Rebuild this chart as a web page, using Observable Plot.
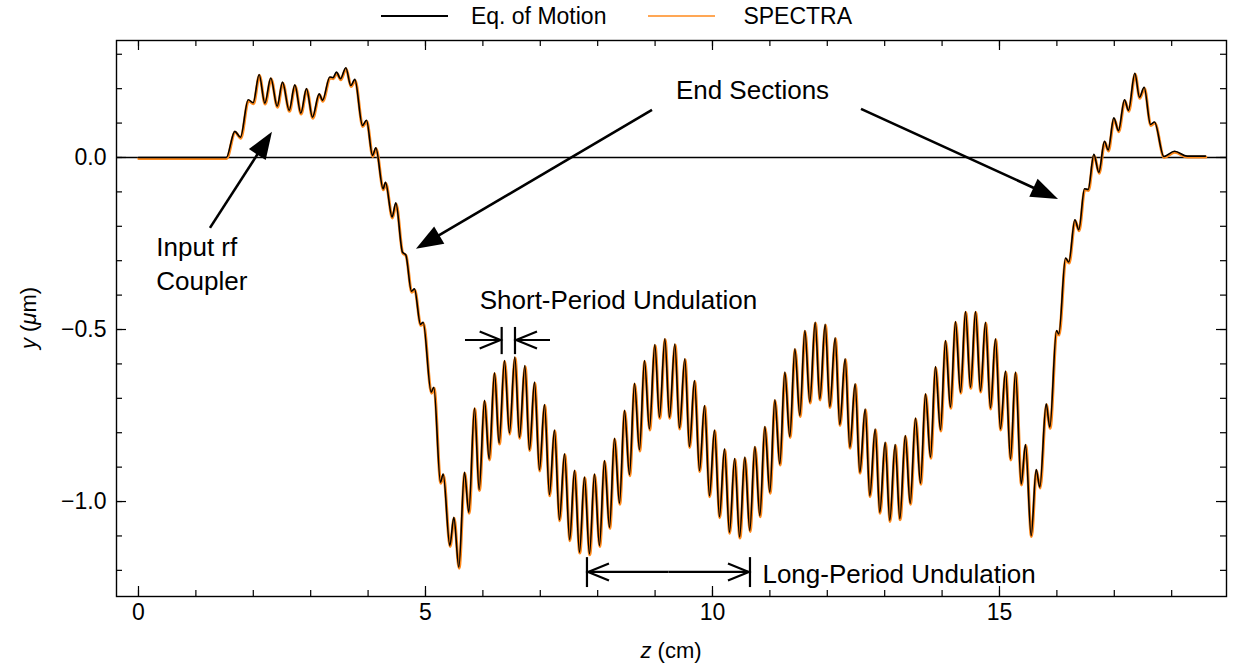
<!DOCTYPE html>
<html><head><meta charset="utf-8">
<script src="https://cdn.jsdelivr.net/npm/d3@7"></script>
<script src="https://cdn.jsdelivr.net/npm/@observablehq/plot@0.6"></script>
<style>
body{margin:0;background:#fff;font-family:"Liberation Sans",Arial,sans-serif;}
#wrap{position:relative;width:1233px;height:671px;overflow:hidden;}
#legend{position:absolute;left:0;top:0;width:1233px;height:32px;display:flex;justify-content:center;align-items:center;font-size:23px;color:#000;}
#legend .item{display:flex;align-items:center;margin:0 21px;}
#legend svg{margin-right:23px;}
#legend .item + .item svg{margin-right:28px;}
#chart{position:absolute;left:0;top:32px;}
</style></head><body>
<div id="wrap"><div id="legend"></div><div id="chart"></div></div>
<script>
// ---- data: z (cm) and y (µm) (extrema of the trajectory)
const zVals = [0,0.5,1.0,1.45,1.53,
1.678,1.777,1.911,1.998,2.102,2.201,2.305,2.416,2.509,2.625,2.724,2.828,2.927,3.031,3.148,3.206,3.333,3.39,3.449,3.519,3.612,3.699,3.769,3.902,3.972,4.077,4.135,
4.262,4.303,4.419,4.483,4.599,4.657,4.756,4.808,4.913,4.959,5.099,5.145,5.261,5.308,5.424,5.494,5.581,5.679,5.755,5.854,5.935,6.028,6.109,6.202,6.283,6.376,6.463,6.556,6.638,6.731,6.812,6.899,6.986,7.073,7.160,7.247,7.334,7.422,7.512,7.596,7.683,7.770,7.857,7.944,8.031,8.118,8.206,8.293,8.380,8.467,8.554,8.641,8.728,8.815,8.902,8.995,9.077,9.170,9.251,9.344,9.425,9.518,9.599,9.686,9.774,9.861,9.948,10.035,10.122,10.209,10.296,10.386,10.473,10.563,10.650,10.738,10.825,10.912,10.999,11.086,11.173,11.260,11.347,11.435,11.522,11.609,11.696,11.789,11.870,11.963,12.044,12.137,12.218,12.311,12.393,12.485,12.567,12.660,12.741,12.834,12.915,13.008,13.089,13.182,13.264,13.359,13.444,13.537,13.624,13.711,13.798,13.885,13.972,14.059,14.146,14.233,14.321,14.408,14.495,14.582,14.669,14.756,14.843,14.930,15.017,15.105,15.192,15.279,15.378,15.453,15.552,15.639,15.703,15.813,15.877,15.993,16.034,16.150,16.208,16.313,16.382,16.481,16.545,16.644,16.731,16.829,16.893,16.992,17.073,17.178,17.247,17.358,17.439,17.520,17.631,17.700,17.863,18.049,18.270,18.589];
const yVals = [0,0,0,0,0.0,
0.076,0.059,0.168,0.159,0.241,0.158,0.231,0.149,0.219,0.137,0.211,0.129,0.200,0.117,0.185,0.166,0.234,0.232,0.248,0.229,0.261,0.209,0.227,0.093,0.108,0.006,0.028,
-0.091,-0.072,-0.173,-0.132,-0.275,-0.283,-0.389,-0.382,-0.485,-0.479,-0.682,-0.668,-0.944,-0.920,-1.128,-1.046,-1.191,-0.915,-1.031,-0.728,-0.965,-0.706,-0.876,-0.626,-0.830,-0.590,-0.801,-0.580,-0.813,-0.605,-0.849,-0.653,-0.908,-0.718,-0.980,-0.792,-1.053,-0.861,-1.111,-0.909,-1.147,-0.929,-1.152,-0.920,-1.128,-0.881,-1.075,-0.816,-1.005,-0.735,-0.922,-0.656,-0.850,-0.590,-0.789,-0.544,-0.755,-0.527,-0.755,-0.542,-0.786,-0.585,-0.840,-0.648,-0.910,-0.721,-0.983,-0.792,-1.044,-0.847,-1.089,-0.875,-1.103,-0.871,-1.084,-0.840,-1.041,-0.782,-0.973,-0.704,-0.891,-0.624,-0.811,-0.556,-0.750,-0.503,-0.711,-0.479,-0.702,-0.485,-0.724,-0.524,-0.776,-0.585,-0.842,-0.658,-0.915,-0.731,-0.983,-0.789,-1.031,-0.828,-1.055,-0.834,-1.050,-0.808,-1.005,-0.757,-0.947,-0.687,-0.871,-0.608,-0.792,-0.532,-0.726,-0.477,-0.682,-0.448,-0.668,-0.448,-0.679,-0.479,-0.728,-0.527,-0.789,-0.621,-0.876,-0.624,-0.949,-0.834,-1.099,-0.907,-0.958,-0.716,-0.784,-0.503,-0.513,-0.292,-0.304,-0.181,-0.210,-0.091,-0.093,0.009,-0.043,0.047,0.022,0.115,0.078,0.168,0.137,0.245,0.175,0.204,0.096,0.103,0.003,0.018,0.004,0.004];

const seriesNames = ["Eq. of Motion", "SPECTRA"];
const seriesColors = ["#000000", "#ff8a1c"];

const xMajorTicks = [0, 5, 10, 15];
const xMinorTicks = d3.range(0, 19, 1);
const yMajorTicks = [-1.0, -0.5, 0.0];
const yMinorTicks = d3.range(-12, 4, 1).map(d => d / 10);

const xDomain = [-0.383, 18.955];
const yDomain = [-1.276, 0.340];

// annotations (data coordinates)
const filledArrows = [
  {z1: 1.254, y1: -0.206, z2: 2.334, y2: 0.073},
  {z1: 8.955, y1: 0.137, z2: 4.843, y2: -0.267},
  {z1: 12.596, y1: 0.140, z2: 16.028, y2: -0.122}
];
const chevronArrows = [
  {z1: 5.697, z2: 6.336, y: -0.532},
  {z1: 7.178, z2: 6.568, y: -0.532},
  {z1: 9.242, z2: 7.822, y: -1.206},
  {z1: 9.242, z2: 10.662, y: -1.206}
];
const markerBars = [
  {z: 6.336, y1: -0.494, y2: -0.573},
  {z: 6.568, y1: -0.494, y2: -0.573},
  {z: 7.822, y1: -1.163, y2: -1.250},
  {z: 10.662, y1: -1.163, y2: -1.250}
];
const labelsStart = [
  {z: 0.31, y: -0.304, text: "Input rf\nCoupler"},
  {z: 10.87, y: -1.206, text: "Long-Period Undulation"}
];
const labelsMiddle = [
  {z: 10.697, y: 0.195, text: "End Sections"},
  {z: 8.362, y: -0.416, text: "Short-Period Undulation"}
];

const rows = zVals.map((z, i) => ({z, y: yVals[i]}));

// legend
const legend = document.getElementById("legend");
seriesNames.forEach((name, i) => {
  const item = document.createElement("div");
  item.className = "item";
  item.innerHTML = `<svg width="67" height="10"><line x1="0" x2="67" y1="5" y2="5" stroke="${seriesColors[i]}" stroke-width="${i ? 1.6 : 2}"/></svg><span>${name}</span>`;
  legend.appendChild(item);
});

const W = 1233, H = 639;
const mL = 116, mR = 7, mT = 8, mB = 75;
const plotW = W - mL - mR, plotH = H - mT - mB;
const major = 10, minor = 6;

function annotationLayer(index, scales, values, dims) {
  const sx = typeof scales.x === "function" ? scales.x : scales.x.apply;
  const sy = typeof scales.y === "function" ? scales.y : scales.y.apply;
  const g = d3.create("svg:g").attr("stroke", "#000").attr("fill", "none");
  for (const a of filledArrows) {
    const x1 = sx(a.z1), y1 = sy(a.y1), x2 = sx(a.z2), y2 = sy(a.y2);
    const L = Math.hypot(x2 - x1, y2 - y1), ux = (x2 - x1) / L, uy = (y2 - y1) / L;
    const hl = 27, hw = 10;
    const bx = x2 - ux * hl, by = y2 - uy * hl;
    g.append("line").attr("x1", x1).attr("y1", y1).attr("x2", bx + ux * 3).attr("y2", by + uy * 3).attr("stroke-width", 2.6);
    g.append("path").attr("d", `M${x2},${y2}L${bx - uy * hw},${by + ux * hw}L${bx + uy * hw},${by - ux * hw}Z`).attr("fill", "#000").attr("stroke", "none");
  }
  for (const c of chevronArrows) {
    const x1 = sx(c.z1), x2 = sx(c.z2), y = sy(c.y);
    const u = Math.sign(x2 - x1), cl = 22, cw = 8.5;
    g.append("line").attr("x1", x1).attr("y1", y).attr("x2", x2 - u * 1.5).attr("y2", y).attr("stroke-width", 2.2);
    g.append("path").attr("d", `M${x2 - u * cl},${y - cw}L${x2 - u * 1.2},${y}L${x2 - u * cl},${y + cw}`).attr("stroke-width", 2.2).attr("stroke-linejoin", "miter");
  }
  for (const b of markerBars) {
    g.append("line").attr("x1", sx(b.z)).attr("x2", sx(b.z)).attr("y1", sy(b.y1)).attr("y2", sy(b.y2)).attr("stroke-width", 2.2);
  }
  return g.node();
}

function axisTitles(index, scales, values, dims) {
  const g = d3.create("svg:g").attr("font-size", 22).attr("fill", "#000");
  const cx = (dims.marginLeft + dims.width - dims.marginRight) / 2;
  const cy = (dims.marginTop + dims.height - dims.marginBottom) / 2;
  const tx = g.append("text").attr("x", cx).attr("y", dims.height - 19).attr("text-anchor", "middle").attr("dominant-baseline", "middle");
  tx.append("tspan").attr("font-style", "italic").text("z");
  tx.append("tspan").text(" (cm)");
  const ty = g.append("text").attr("transform", `translate(30,${cy}) rotate(-90)`).attr("text-anchor", "middle").attr("dominant-baseline", "middle");
  ty.append("tspan").attr("font-style", "italic").text("y");
  ty.append("tspan").text(" (");
  ty.append("tspan").attr("font-style", "italic").text("μ");
  ty.append("tspan").text("m)");
  return g.node();
}

const chart = Plot.plot({
  width: W, height: H,
  marginLeft: mL, marginRight: mR, marginTop: mT, marginBottom: mB,
  style: {fontFamily: '"Liberation Sans", Arial, sans-serif', fontSize: "23px", color: "#000", background: "#fff", overflow: "visible"},
  x: {domain: xDomain},
  y: {domain: yDomain},
  marks: [
    Plot.ruleY([0], {stroke: "#000", strokeWidth: 1.4}),
    Plot.line(rows, {x: "z", y: "y", curve: "monotone-x", stroke: seriesColors[1], strokeWidth: 3, dy: 1, dx: 0.3}),
    Plot.line(rows, {x: "z", y: "y", curve: "monotone-x", stroke: seriesColors[0], strokeWidth: 1.6}),
    // inward ticks on all four sides
    Plot.tickX(xMinorTicks, {x: d => d, insetTop: plotH - minor, stroke: "#000", strokeWidth: 1.2}),
    Plot.tickX(xMinorTicks, {x: d => d, insetBottom: plotH - minor, stroke: "#000", strokeWidth: 1.2}),
    Plot.tickX(xMajorTicks, {x: d => d, insetTop: plotH - major, stroke: "#000", strokeWidth: 1.2}),
    Plot.tickX(xMajorTicks, {x: d => d, insetBottom: plotH - major, stroke: "#000", strokeWidth: 1.2}),
    Plot.tickY(yMinorTicks, {y: d => d, insetRight: plotW - minor, stroke: "#000", strokeWidth: 1.2}),
    Plot.tickY(yMinorTicks, {y: d => d, insetLeft: plotW - minor, stroke: "#000", strokeWidth: 1.2}),
    Plot.tickY(yMajorTicks, {y: d => d, insetRight: plotW - major, stroke: "#000", strokeWidth: 1.2}),
    Plot.tickY(yMajorTicks, {y: d => d, insetLeft: plotW - major, stroke: "#000", strokeWidth: 1.2}),
    Plot.axisX(xMajorTicks, {anchor: "bottom", tickSize: 0, tickPadding: 7, label: null, tickFormat: d => String(d), fontSize: 23}),
    Plot.axisY(yMajorTicks, {anchor: "left", tickSize: 0, tickPadding: 10, label: null, tickFormat: d3.format(".1f"), fontSize: 23}),
    Plot.frame({stroke: "#000", strokeWidth: 1.4}),
    Plot.text(labelsStart, {x: "z", y: "y", text: "text", textAnchor: "start", fontSize: 26, lineHeight: 1.3, lineAnchor: "middle", fill: "#000"}),
    Plot.text(labelsMiddle, {x: "z", y: "y", text: "text", textAnchor: "middle", fontSize: 26, lineAnchor: "middle", fill: "#000"}),
    annotationLayer,
    axisTitles
  ]
});
document.getElementById("chart").appendChild(chart);
</script>
</body></html>
